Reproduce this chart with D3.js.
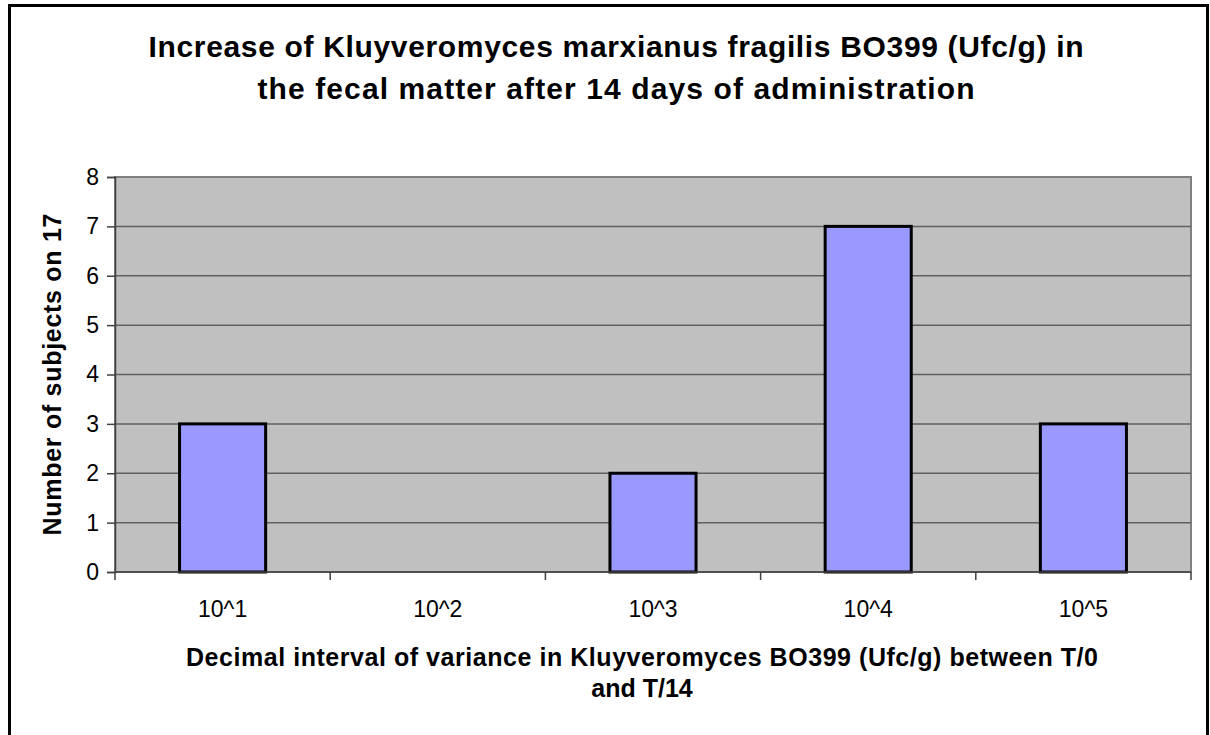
<!DOCTYPE html>
<html>
<head>
<meta charset="utf-8">
<script src="https://cdn.jsdelivr.net/npm/d3@7"></script>
<style>
  body { margin: 0; background: #fff; }
  svg text { font-family: Arial, "Liberation Sans", sans-serif; }
</style>
</head>
<body>
<div id="chart"></div>
<script>
// chart data
const categories = ["10^1", "10^2", "10^3", "10^4", "10^5"];
const subjects = [3, 0, 2, 7, 3];
const yTicks = [0, 1, 2, 3, 4, 5, 6, 7, 8];
const titleLines = ["Increase of Kluyveromyces marxianus fragilis BO399 (Ufc/g) in",
                    "the fecal matter after 14 days of administration"];
const xTitleLines = ["Decimal interval of variance in Kluyveromyces BO399 (Ufc/g) between T/0",
                     "and T/14"];
const yTitle = "Number of subjects on 17";

let w = 1210, h = 735;
let plot = {left: 115, right: 1191, top: 177, bottom: 572};

let svg = d3.select("#chart").append("svg")
    .attr("width", w)
    .attr("height", h);

//outer frame
svg.append("rect")
    .attr("x", 9.5).attr("y", 5.5)
    .attr("width", 1198).attr("height", 740)
    .attr("fill", "#fff")
    .attr("stroke", "#000")
    .attr("stroke-width", 3);

let xScale = d3.scaleBand()
    .domain(categories)
    .range([plot.left, plot.right])
    .paddingInner(0.6)
    .paddingOuter(0.3);

let catScale = d3.scaleBand()
    .domain(categories)
    .range([plot.left, plot.right]);

let yScale = d3.scaleLinear()
    .domain([0, 8])
    .range([plot.bottom, plot.top]);

//plot background
svg.append("rect")
    .attr("x", plot.left).attr("y", plot.top)
    .attr("width", plot.right - plot.left)
    .attr("height", plot.bottom - plot.top)
    .attr("fill", "#c0c0c0")
    .attr("stroke", "#808080")
    .attr("stroke-width", 2);

//gridlines
svg.append("g")
    .selectAll("line")
    .data(yTicks.filter(d => d > 0 && d < 8))
    .enter()
    .append("line")
    .attr("x1", plot.left).attr("x2", plot.right)
    .attr("y1", d => yScale(d)).attr("y2", d => yScale(d))
    .attr("stroke", "#606060")
    .attr("stroke-width", 1.5);

//bars
svg.append("g")
    .selectAll("rect")
    .data(subjects.map((v, i) => ({cat: categories[i], value: v})).filter(d => d.value > 0))
    .enter()
    .append("rect")
    .attr("x", d => xScale(d.cat))
    .attr("y", d => yScale(d.value))
    .attr("width", xScale.bandwidth())
    .attr("height", d => yScale(0) - yScale(d.value))
    .attr("fill", "#9999ff")
    .attr("stroke", "#000")
    .attr("stroke-width", 3);

//y axis
let yAxis = d3.axisLeft(yScale)
    .tickValues(yTicks)
    .tickSize(8)
    .tickPadding(8);

let gy = svg.append("g")
    .attr("transform", `translate(${plot.left}, 0)`)
    .call(yAxis);
gy.select(".domain").attr("stroke", "#404040").attr("stroke-width", 1.5);
gy.selectAll(".tick line").attr("stroke", "#404040").attr("stroke-width", 1.5);
gy.selectAll("text")
    .attr("font-size", "23px")
    .attr("fill", "#000");

//x axis: ticks at category boundaries
let boundaries = categories.map(c => catScale(c)).concat([plot.right]);
svg.append("line")
    .attr("x1", plot.left).attr("x2", plot.right)
    .attr("y1", plot.bottom).attr("y2", plot.bottom)
    .attr("stroke", "#404040").attr("stroke-width", 1.5);
svg.append("g")
    .selectAll("line")
    .data(boundaries)
    .enter()
    .append("line")
    .attr("x1", d => d).attr("x2", d => d)
    .attr("y1", plot.bottom).attr("y2", plot.bottom + 8)
    .attr("stroke", "#404040").attr("stroke-width", 1.5);

svg.append("g")
    .selectAll("text")
    .data(categories)
    .enter()
    .append("text")
    .attr("x", d => catScale(d) + catScale.bandwidth() / 2)
    .attr("y", 617)
    .attr("text-anchor", "middle")
    .attr("font-size", "23px")
    .text(d => d);

//title
let titleLen = [935, 717];
svg.append("g")
    .selectAll("text")
    .data(titleLines)
    .enter()
    .append("text")
    .attr("x", 616)
    .attr("y", (d, i) => 57 + i * 42)
    .attr("text-anchor", "middle")
    .attr("font-size", "30px")
    .attr("font-weight", "bold")
    .attr("textLength", (d, i) => titleLen[i])
    .attr("lengthAdjust", "spacing")
    .text(d => d);

//x title
svg.append("g")
    .selectAll("text")
    .data(xTitleLines)
    .enter()
    .append("text")
    .attr("x", 642)
    .attr("y", (d, i) => 666 + i * 31)
    .attr("text-anchor", "middle")
    .attr("font-size", "25px")
    .attr("font-weight", "bold")
    .attr("textLength", (d, i) => i === 0 ? 912 : null)
    .attr("lengthAdjust", "spacing")
    .text(d => d);

//y title
svg.append("text")
    .attr("transform", `translate(61, ${(plot.top + plot.bottom) / 2}) rotate(-90)`)
    .attr("text-anchor", "middle")
    .attr("font-size", "25px")
    .attr("font-weight", "bold")
    .attr("textLength", 322)
    .attr("lengthAdjust", "spacing")
    .text(yTitle);
</script>
</body>
</html>
